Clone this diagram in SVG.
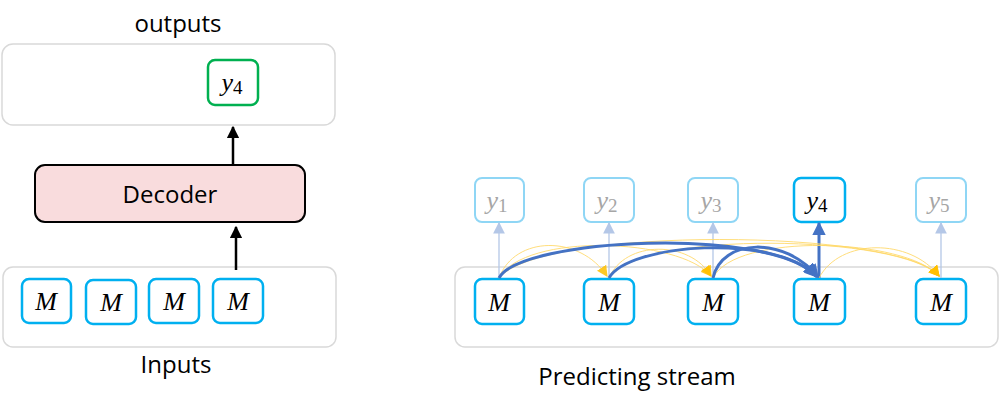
<svg xmlns="http://www.w3.org/2000/svg" width="1000" height="409" viewBox="0 0 1000 409">
<defs>
<style>
.lbl{font-family:"Open Sans","Liberation Sans",sans-serif;font-size:24px;fill:#000;text-anchor:middle}
.panel{fill:#fff;stroke:#d9d9d9;stroke-width:1.5}
.mbox{fill:#fff;stroke:#00b0f0;stroke-width:2.5}
.ybox{fill:#fff;stroke:#8fd6f5;stroke-width:2}
.math{font-family:"Liberation Serif","DejaVu Serif",serif;font-style:italic;font-size:26px;text-anchor:middle}
.sub{font-style:normal;font-size:19px}
.blk{stroke:#000;stroke-width:2.5;fill:none}
.thin{stroke:#b4c7e7;stroke-width:1.3;fill:none}
.blue{stroke:#4472c4;stroke-width:3;fill:none}
.yel{stroke:#ffd966;stroke-width:1;fill:none;opacity:0.85}
</style>
<marker id="ab" viewBox="0 0 10 10" refX="9" refY="5" markerWidth="5" markerHeight="5" orient="auto" markerUnits="strokeWidth"><path d="M0,0 L10,5 L0,10 z" fill="#000"/></marker>
<marker id="at" viewBox="0 0 10 10" refX="9" refY="5" markerWidth="9" markerHeight="9" orient="auto" markerUnits="strokeWidth"><path d="M0,0 L10,5 L0,10 z" fill="#b4c7e7"/></marker>
<marker id="abl" viewBox="0 0 10 10" refX="9" refY="5" markerWidth="4.5" markerHeight="4.5" orient="auto" markerUnits="strokeWidth"><path d="M0,0 L10,5 L0,10 z" fill="#4472c4"/></marker>
<marker id="ay" viewBox="0 0 10 10" refX="9" refY="5" markerWidth="11" markerHeight="11" orient="auto" markerUnits="strokeWidth"><path d="M0,0 L10,5 L0,10 z" fill="#ffc000"/></marker>
</defs>
<rect width="1000" height="409" fill="#fff"/>

<g id="left-outputs">
<text class="lbl" x="178" y="32">outputs</text>
<rect class="panel" x="2" y="44" width="333" height="81" rx="11"/>
</g>
<g id="left-y4">
<rect x="208" y="60" width="50" height="45" rx="7" fill="#fff" stroke="#00b050" stroke-width="2.5"/>
<text class="math" x="232" y="91">y<tspan class="sub" dy="3">4</tspan></text>
</g>
<g id="decoder">
<rect x="35" y="165" width="270" height="57" rx="10" fill="#f9dcdd" stroke="#000" stroke-width="2"/>
<text class="lbl" x="170" y="203">Decoder</text>
</g>
<g id="left-inputs">
<rect class="panel" x="3" y="267" width="333" height="80" rx="10"/>
<text class="lbl" x="176" y="373">Inputs</text>
</g>
<g id="in-m1"><rect class="mbox" x="22" y="279" width="49" height="44" rx="7"/><text class="math" x="46" y="310">M</text></g>
<g id="in-m2"><rect class="mbox" x="86" y="280" width="50" height="44" rx="7"/><text class="math" x="111" y="311">M</text></g>
<g id="in-m3"><rect class="mbox" x="149" y="279" width="50" height="44" rx="7"/><text class="math" x="174" y="310">M</text></g>
<g id="in-m4"><rect class="mbox" x="213" y="279" width="50" height="44" rx="7"/><text class="math" x="238" y="310">M</text></g>

<g id="stream">
<rect class="panel" x="455" y="267" width="543" height="80" rx="10"/>
<text class="lbl" x="637" y="385">Predicting stream</text>
</g>

<g id="s-m1"><rect class="mbox" x="475" y="279" width="49" height="45" rx="7"/><text class="math" x="499" y="311">M</text></g>
<g id="s-m2"><rect class="mbox" x="584" y="279" width="50" height="45" rx="7"/><text class="math" x="609" y="311">M</text></g>
<g id="s-m3"><rect class="mbox" x="688" y="279" width="50" height="45" rx="7"/><text class="math" x="713" y="311">M</text></g>
<g id="s-m4"><rect class="mbox" x="794" y="279" width="51" height="45" rx="7"/><text class="math" x="819" y="311">M</text></g>
<g id="s-m5"><rect class="mbox" x="916" y="279" width="50" height="45" rx="7"/><text class="math" x="941" y="311">M</text></g>

<g id="s-y1"><rect class="ybox" x="475" y="178" width="49" height="44" rx="7"/><text class="math" x="497" y="209" fill="#a6a6a6">y<tspan class="sub" dy="3">1</tspan></text></g>
<g id="s-y2"><rect class="ybox" x="584" y="178" width="50" height="44" rx="7"/><text class="math" x="607" y="209" fill="#a6a6a6">y<tspan class="sub" dy="3">2</tspan></text></g>
<g id="s-y3"><rect class="ybox" x="688" y="178" width="50" height="44" rx="7"/><text class="math" x="711" y="209" fill="#a6a6a6">y<tspan class="sub" dy="3">3</tspan></text></g>
<g id="s-y4"><rect class="mbox" x="794" y="178" width="51" height="44" rx="7"/><text class="math" x="817" y="209" fill="#000">y<tspan class="sub" dy="3">4</tspan></text></g>
<g id="s-y5"><rect class="ybox" x="916" y="178" width="50" height="44" rx="7"/><text class="math" x="939" y="209" fill="#a6a6a6">y<tspan class="sub" dy="3">5</tspan></text></g>

<g id="connectors">
<line class="blk" x1="233" y1="165" x2="233" y2="127" marker-end="url(#ab)"/>
<line class="blk" x1="236" y1="270" x2="236" y2="227" marker-end="url(#ab)"/>

<line class="thin" x1="499" y1="278" x2="499" y2="223" marker-end="url(#at)"/>
<line class="thin" x1="609" y1="278" x2="609" y2="223" marker-end="url(#at)"/>
<line class="thin" x1="713" y1="278" x2="713" y2="223" marker-end="url(#at)"/>
<line class="thin" x1="941" y1="278" x2="941" y2="223" marker-end="url(#at)"/>
<line x1="819" y1="278" x2="819" y2="223" stroke="#4472c4" stroke-width="3" marker-end="url(#abl)"/>

<path class="yel" d="M499,278 C515,235 580,235 607,276" marker-end="url(#ay)"/>
<path class="yel" d="M499,278 C525,232 680,238 711,276" marker-end="url(#ay)"/>
<path class="yel" d="M609,278 C625,240 690,240 711,276" marker-end="url(#ay)"/>
<path class="yel" d="M499,278 C540,226 900,228 939,276" marker-end="url(#ay)"/>
<path class="yel" d="M609,278 C640,230 900,234 939,276" marker-end="url(#ay)"/>
<path class="yel" d="M713,278 C735,232 905,238 939,276" marker-end="url(#ay)"/>
<path class="yel" d="M819,278 C840,238 910,238 939,276" marker-end="url(#ay)"/>

<path class="blue" d="M499,278 C520,238 770,226 816,276" marker-end="url(#abl)"/>
<path class="blue" d="M609,278 C628,244 775,232 817,277" marker-end="url(#abl)"/>
<path class="blue" d="M713,278 C722,238 785,236 818,277" marker-end="url(#abl)"/>
</g>
</svg>
